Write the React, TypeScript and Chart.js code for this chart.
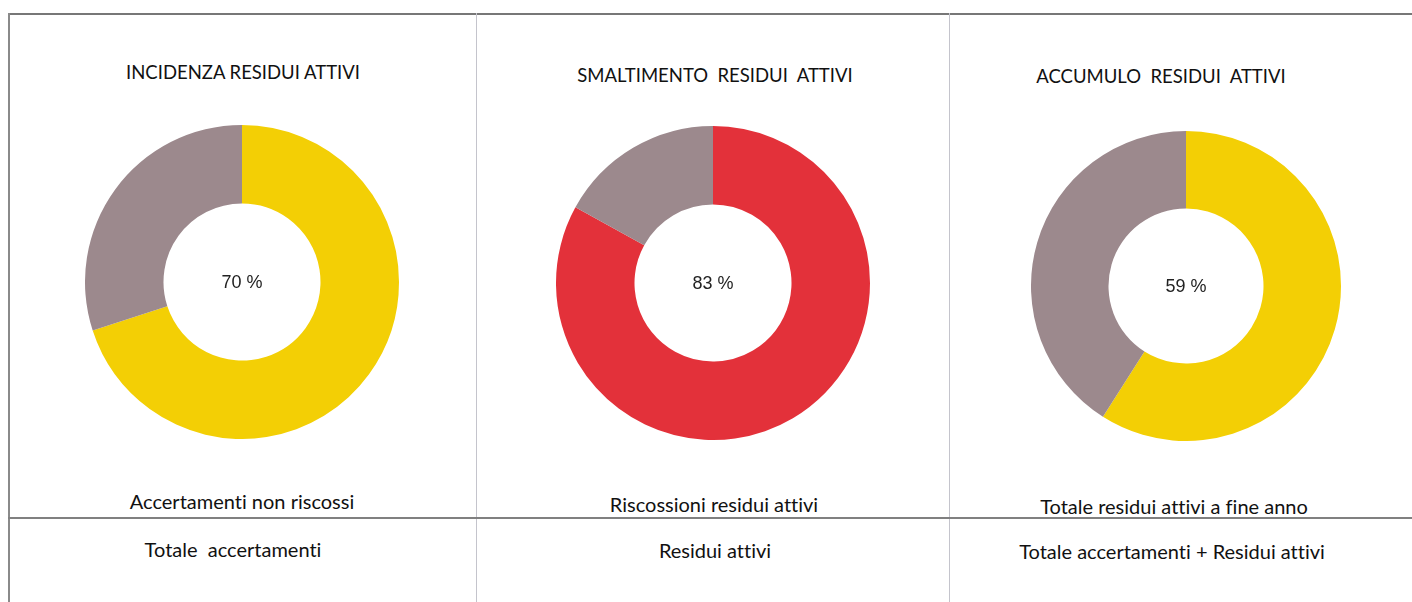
import React, { useEffect, useRef } from "react";
import { Chart, registerables } from "chart.js";

Chart.register(...registerables);

const chartTitles = ["INCIDENZA RESIDUI ATTIVI", "SMALTIMENTO  RESIDUI  ATTIVI", "ACCUMULO  RESIDUI  ATTIVI"];
const numeratorLabels = ["Accertamenti non riscossi", "Riscossioni residui attivi", "Totale residui attivi a fine anno"];
const denominatorLabels = ["Totale  accertamenti", "Residui attivi", "Totale accertamenti + Residui attivi"];
const mainValues = [70, 83, 59];
const restValues = [30, 17, 41];
const mainColors = ["#F3CF05", "#E3313A", "#F3CF05"];
const restColor = "#9C898D";

// layout (pixels)
const panels = [
  { cx: 242, cy: 282, r: 157, titleX: 243, titleY: 72, numX: 242, numY: 501, denX: 233, denY: 549 },
  { cx: 713, cy: 283, r: 157, titleX: 715, titleY: 75, numX: 714, numY: 504, denX: 715, denY: 550 },
  { cx: 1186, cy: 286, r: 155, titleX: 1161, titleY: 76, numX: 1174, numY: 506, denX: 1172, denY: 551 },
];

const centerTextPlugin = {
  id: "centerText",
  afterDatasetsDraw(chart: any) {
    const meta = chart.getDatasetMeta(0);
    const arc = meta.data[0];
    if (!arc) return;
    const txt = chart.options.plugins.centerText.text;
    const ctx = chart.ctx;
    ctx.save();
    ctx.font = "18px 'Liberation Sans', Arial, sans-serif";
    ctx.fillStyle = "#222";
    ctx.textAlign = "center";
    ctx.textBaseline = "middle";
    ctx.fillText(txt, arc.x, arc.y + 1);
    ctx.restore();
  },
};

function Donut({ idx }: { idx: number }) {
  const ref = useRef<HTMLCanvasElement | null>(null);
  const p = panels[idx];
  useEffect(() => {
    if (!ref.current) return;
    const chart = new Chart(ref.current, {
      type: "doughnut",
      data: {
        labels: [numeratorLabels[idx], "Altro"],
        datasets: [
          {
            data: [mainValues[idx], restValues[idx]],
            backgroundColor: [mainColors[idx], restColor],
            borderWidth: 0,
          },
        ],
      },
      options: {
        animation: false,
        responsive: false,
        cutout: "50%",
        layout: { padding: 0 },
        plugins: {
          legend: { display: false },
          tooltip: { enabled: false },
          centerText: { text: `${mainValues[idx]} %` },
        } as any,
      },
      plugins: [centerTextPlugin],
    });
    return () => chart.destroy();
  }, [idx]);
  const size = p.r * 2;
  return (
    <canvas
      ref={ref}
      width={size}
      height={size}
      style={{ position: "absolute", left: p.cx - p.r, top: p.cy - p.r, width: size, height: size }}
    />
  );
}

const textStyle = (x: number, y: number, size: number): React.CSSProperties => ({
  position: "absolute",
  left: x,
  top: y,
  transform: "translate(-50%, -50%)",
  whiteSpace: "pre",
  fontFamily: "Lato, 'Open Sans', sans-serif",
  fontSize: size,
  fontVariantLigatures: "none",
  color: "#111",
});

export default function App() {
  return (
    <div style={{ position: "absolute", left: 0, top: 0, width: 1412, height: 602, background: "#fff", overflow: "hidden" }}>
      {/* table lines */}
      <div style={{ position: "absolute", left: 8, top: 13, width: 1404, height: 2, background: "#777" }} />
      <div style={{ position: "absolute", left: 8, top: 13, width: 2, height: 589, background: "#8a8a8a" }} />
      <div style={{ position: "absolute", left: 476, top: 13, width: 1, height: 589, background: "#c4c4cc" }} />
      <div style={{ position: "absolute", left: 949, top: 13, width: 1, height: 589, background: "#c4c4cc" }} />
      <div style={{ position: "absolute", left: 8, top: 517, width: 1404, height: 2, background: "#808080" }} />
      {panels.map((p, i) => (
        <React.Fragment key={i}>
          <div style={textStyle(p.titleX, p.titleY, 18.5)}>{chartTitles[i]}</div>
          <Donut idx={i} />
          <div style={textStyle(p.numX, p.numY, 20)}>{numeratorLabels[i]}</div>
          <div style={textStyle(p.denX, p.denY, 20)}>{denominatorLabels[i]}</div>
        </React.Fragment>
      ))}
    </div>
  );
}
